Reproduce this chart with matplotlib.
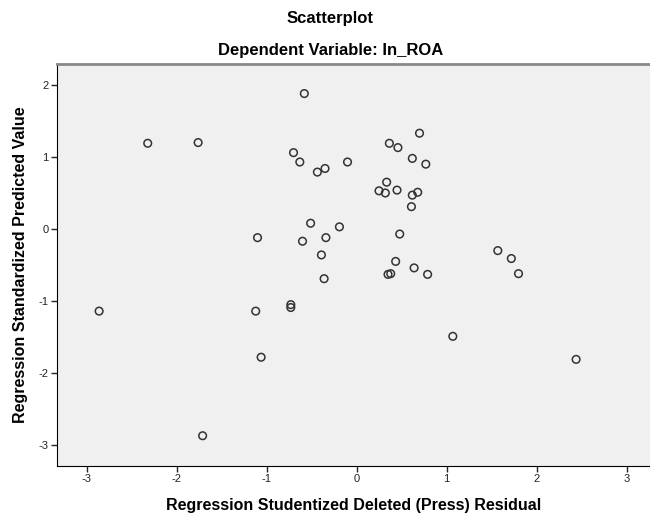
import matplotlib.pyplot as plt

plt.rcParams['font.family'] = ['Liberation Sans', 'DejaVu Sans']
plt.rcParams['axes.unicode_minus'] = False

# studentized deleted residual (x) vs standardized predicted value (y)
resid_x = [-0.58, -2.32, -1.76, -0.70, -0.63, -0.435, -0.35, -0.10, -0.51, -0.19,
           -1.10, -0.60, -0.34, -0.39, -0.36,
           0.70, 0.365, 0.46, 0.62, 0.77, 0.335, 0.25, 0.32, 0.45, 0.62,
           0.68, 0.61, 0.48, 1.57, 1.72, 1.80, 0.435, 0.64, 0.79, 0.35, 0.38,
           -2.86, -1.12, -0.73, -0.73, -1.06, -1.71,
           1.07, 2.44]
pred_y = [1.88, 1.19, 1.20, 1.06, 0.93, 0.79, 0.84, 0.93, 0.08, 0.03,
          -0.12, -0.17, -0.12, -0.36, -0.69,
          1.33, 1.19, 1.13, 0.98, 0.90, 0.65, 0.53, 0.50, 0.54, 0.47,
          0.51, 0.31, -0.07, -0.30, -0.41, -0.62, -0.45, -0.54, -0.63, -0.63, -0.62,
          -1.14, -1.14, -1.05, -1.09, -1.78, -2.87,
          -1.49, -1.81]

x_ticks = [-3, -2, -1, 0, 1, 2, 3]
y_ticks = [-3, -2, -1, 0, 1, 2]

fig = plt.figure(figsize=(6.5, 5.16), dpi=100)
ax = fig.add_axes([0.0877, 0.0969, 0.9123, 0.7790])
ax.set_facecolor('#f0f0f0')

ax.scatter(resid_x, pred_y, s=30, facecolors='none', edgecolors='#333333', linewidths=1.1)

ax.set_xlim(-3.328, 3.261)
ax.set_ylim(-3.29, 2.29)
ax.set_xticks(x_ticks)
ax.set_yticks(y_ticks)
ax.tick_params(labelsize=8, colors='#222222', length=4, width=1, pad=2)

ax.spines['top'].set_color('#888888')
ax.spines['top'].set_linewidth(2)
ax.spines['right'].set_visible(False)
ax.spines['left'].set_color('black')
ax.spines['bottom'].set_color('black')

ax.set_xlabel('Regression Studentized Deleted (Press) Residual', fontsize=11.5,
              fontweight='bold', labelpad=10)
ax.set_ylabel('Regression Standardized Predicted Value', fontsize=11.5,
              fontweight='bold', labelpad=8)

fig.text(0.508, 0.965, 'Scatterplot', ha='center', va='center', fontsize=12, fontweight='bold')
fig.text(0.508, 0.903, 'Dependent Variable: In_ROA', ha='center', va='center',
         fontsize=12, fontweight='bold')

fig.savefig('out.png', dpi=100)
